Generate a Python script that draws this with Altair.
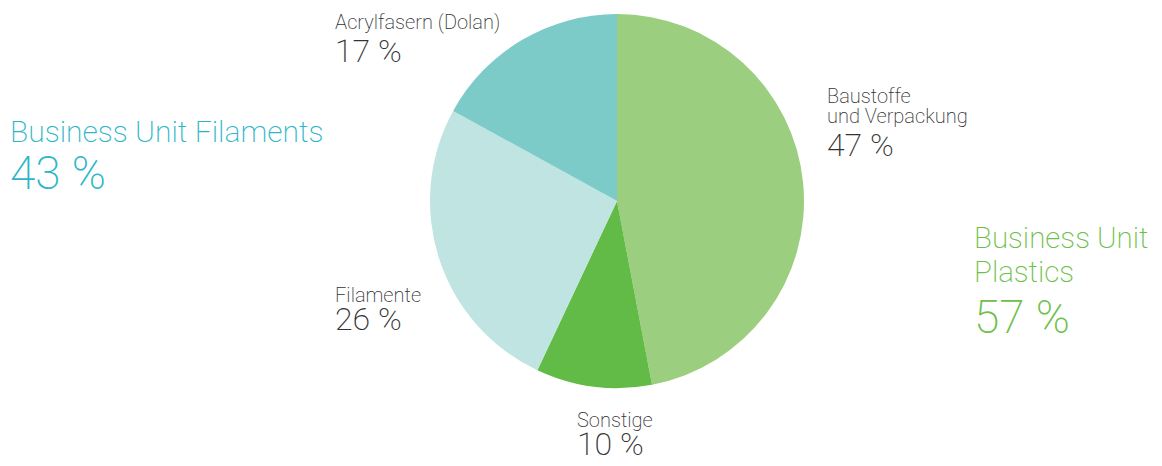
import altair as alt
import pandas as pd

# Data
segments = ["Baustoffe und Verpackung", "Sonstige", "Filamente", "Acrylfasern (Dolan)"]
shares = [47, 10, 26, 17]
slice_colors = ["#9BCE7E", "#62BB46", "#BFE4E2", "#7CCBC8"]
units = ["Business Unit Plastics", "Business Unit Filaments"]
unit_shares = [57, 43]

FONT = "Roboto"
WEIGHT = 200
GRAY = "#333333"
TEAL = "#2DB6C8"
GREEN = "#6CC04A"

df = pd.DataFrame({"segment": segments, "share": shares, "order": list(range(len(segments)))})

pie = alt.Chart(df).mark_arc(outerRadius=187, strokeWidth=0).encode(
    theta=alt.Theta("share:Q", stack=True),
    order=alt.Order("order:Q"),
    color=alt.Color("segment:N", scale=alt.Scale(domain=segments, range=slice_colors), legend=None),
    x=alt.value(609),
    y=alt.value(193),
)

base = alt.Chart(pd.DataFrame({"a": [0]}))


def txt(text, x, y, size, color, line_height=None):
    kw = dict(align="left", baseline="alphabetic", font=FONT, fontWeight=WEIGHT,
              fontSize=size, color=color, text=text)
    if line_height:
        kw["lineBreak"] = "\n"
        kw["lineHeight"] = line_height
    return base.mark_text(**kw).encode(x=alt.value(x), y=alt.value(y))


def pct(v):
    return f"{v} %"

SMALL = 20
MID = 32
BIG = 30
HUGE = 46

layers = [
    pie,
    txt(segments[3], 327, 21, SMALL, GRAY),
    txt(pct(shares[3]), 327, 54, MID, GRAY),
    txt("Baustoffe\nund Verpackung", 819, 95, SMALL, GRAY, 20),
    txt(pct(shares[0]), 819, 148, MID, GRAY),
    txt(segments[2], 327, 294, SMALL, GRAY),
    txt(pct(shares[2]), 327, 322, MID, GRAY),
    txt(segments[1], 569, 419, SMALL, GRAY),
    txt(pct(shares[1]), 569, 447, MID, GRAY),
    txt(units[1], 2, 134, BIG, TEAL),
    txt(pct(unit_shares[1]), 2, 181, HUGE, TEAL),
    txt("Business Unit\nPlastics", 966, 240, 29.5, GREEN, 34),
    txt(pct(unit_shares[0]), 966, 325, HUGE, GREEN),
]

chart = alt.layer(*layers).properties(
    width=1146, height=450, padding=0,
    autosize=alt.AutoSizeParams(type="fit", contains="padding"),
).configure_view(strokeWidth=0)

chart.save("out.html", embed_options={"renderer": "svg", "actions": False})
